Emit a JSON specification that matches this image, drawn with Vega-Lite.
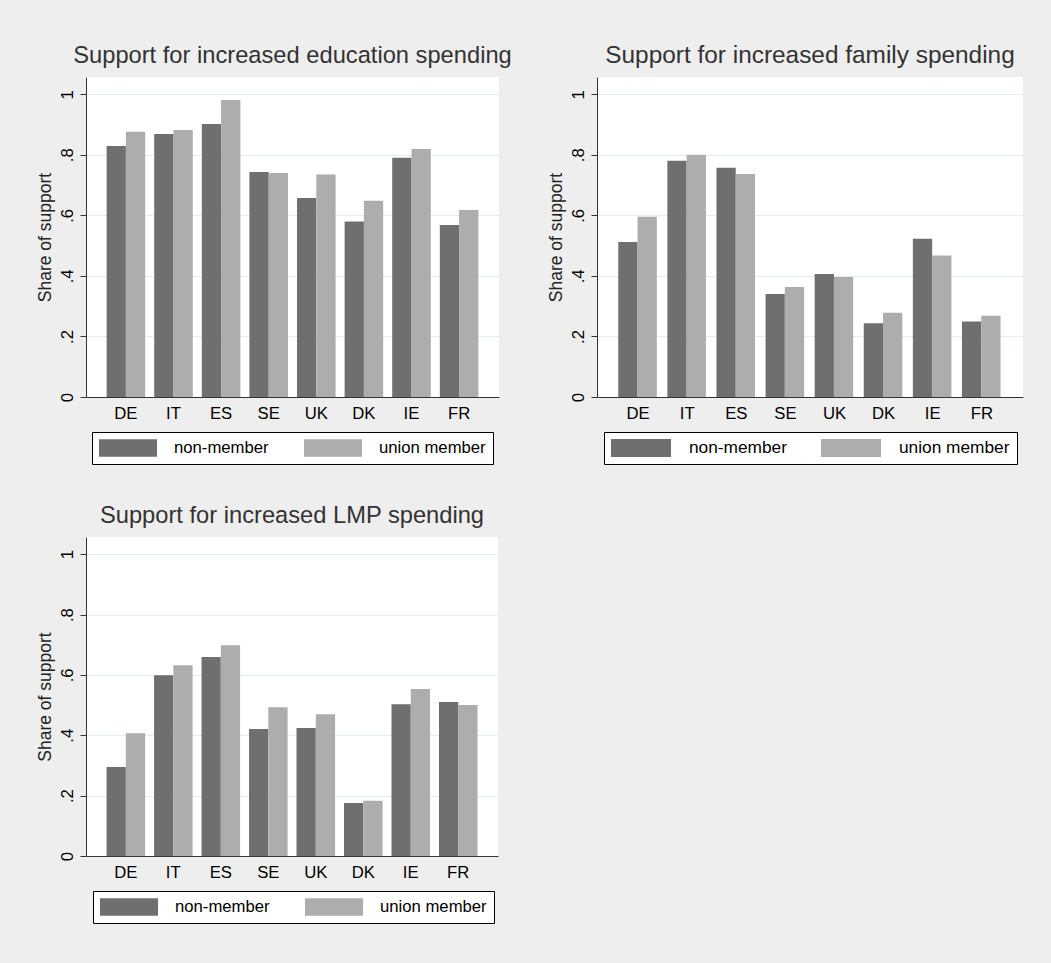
{
  "$schema": "https://vega.github.io/schema/vega-lite/v6.json",
  "background": "#eeeeee",
  "padding": {"left": 36, "top": 42, "right": 28, "bottom": 39},
  "datasets": {
    "support": [
      {"topic": "education", "country": "DE", "member": "non-member", "share": 0.829},
      {"topic": "education", "country": "DE", "member": "union member", "share": 0.876},
      {"topic": "education", "country": "IT", "member": "non-member", "share": 0.869},
      {"topic": "education", "country": "IT", "member": "union member", "share": 0.882},
      {"topic": "education", "country": "ES", "member": "non-member", "share": 0.902},
      {"topic": "education", "country": "ES", "member": "union member", "share": 0.981},
      {"topic": "education", "country": "SE", "member": "non-member", "share": 0.743},
      {"topic": "education", "country": "SE", "member": "union member", "share": 0.740},
      {"topic": "education", "country": "UK", "member": "non-member", "share": 0.657},
      {"topic": "education", "country": "UK", "member": "union member", "share": 0.735},
      {"topic": "education", "country": "DK", "member": "non-member", "share": 0.580},
      {"topic": "education", "country": "DK", "member": "union member", "share": 0.648},
      {"topic": "education", "country": "IE", "member": "non-member", "share": 0.790},
      {"topic": "education", "country": "IE", "member": "union member", "share": 0.819},
      {"topic": "education", "country": "FR", "member": "non-member", "share": 0.568},
      {"topic": "education", "country": "FR", "member": "union member", "share": 0.618},
      {"topic": "family", "country": "DE", "member": "non-member", "share": 0.512},
      {"topic": "family", "country": "DE", "member": "union member", "share": 0.595},
      {"topic": "family", "country": "IT", "member": "non-member", "share": 0.780},
      {"topic": "family", "country": "IT", "member": "union member", "share": 0.800},
      {"topic": "family", "country": "ES", "member": "non-member", "share": 0.757},
      {"topic": "family", "country": "ES", "member": "union member", "share": 0.737},
      {"topic": "family", "country": "SE", "member": "non-member", "share": 0.340},
      {"topic": "family", "country": "SE", "member": "union member", "share": 0.363},
      {"topic": "family", "country": "UK", "member": "non-member", "share": 0.406},
      {"topic": "family", "country": "UK", "member": "union member", "share": 0.396},
      {"topic": "family", "country": "DK", "member": "non-member", "share": 0.244},
      {"topic": "family", "country": "DK", "member": "union member", "share": 0.278},
      {"topic": "family", "country": "IE", "member": "non-member", "share": 0.523},
      {"topic": "family", "country": "IE", "member": "union member", "share": 0.467},
      {"topic": "family", "country": "FR", "member": "non-member", "share": 0.249},
      {"topic": "family", "country": "FR", "member": "union member", "share": 0.268},
      {"topic": "lmp", "country": "DE", "member": "non-member", "share": 0.295},
      {"topic": "lmp", "country": "DE", "member": "union member", "share": 0.407},
      {"topic": "lmp", "country": "IT", "member": "non-member", "share": 0.599},
      {"topic": "lmp", "country": "IT", "member": "union member", "share": 0.632},
      {"topic": "lmp", "country": "ES", "member": "non-member", "share": 0.659},
      {"topic": "lmp", "country": "ES", "member": "union member", "share": 0.698},
      {"topic": "lmp", "country": "SE", "member": "non-member", "share": 0.421},
      {"topic": "lmp", "country": "SE", "member": "union member", "share": 0.493},
      {"topic": "lmp", "country": "UK", "member": "non-member", "share": 0.424},
      {"topic": "lmp", "country": "UK", "member": "union member", "share": 0.470},
      {"topic": "lmp", "country": "DK", "member": "non-member", "share": 0.176},
      {"topic": "lmp", "country": "DK", "member": "union member", "share": 0.183},
      {"topic": "lmp", "country": "IE", "member": "non-member", "share": 0.503},
      {"topic": "lmp", "country": "IE", "member": "union member", "share": 0.553},
      {"topic": "lmp", "country": "FR", "member": "non-member", "share": 0.510},
      {"topic": "lmp", "country": "FR", "member": "union member", "share": 0.500}
    ]
  },
  "config": {
    "font": "Liberation Sans",
    "view": {"fill": "white", "stroke": null},
    "title": {"font": "Liberation Sans", "fontSize": 23.7, "fontWeight": "normal", "color": "#333333", "anchor": "middle", "baseline": "alphabetic", "offset": 9},
    "axis": {
      "labelFont": "Liberation Sans", "labelFontSize": 16.7, "labelColor": "black",
      "titleFont": "Liberation Sans", "titleFontSize": 17.5, "titleFontWeight": "normal", "titleColor": "#222222",
      "domainColor": "#333333", "tickColor": "#333333", "gridColor": "#e5edf0"
    },
    "axisX": {"ticks": false, "tickSize": 0, "labelAngle": 0, "labelPadding": 8, "grid": false, "title": null},
    "axisY": {"tickSize": 6, "labelAngle": -90, "labelAlign": "center", "labelBaseline": "bottom", "labelPadding": 4, "titlePadding": 5, "grid": true},
    "legend": {
      "orient": "none", "direction": "horizontal", "columns": 2, "title": null,
      "fillColor": "white", "strokeColor": "black", "padding": 7,
      "symbolType": "M-1,-0.3H1V0.3H-1Z", "symbolSize": 3364, "symbolStrokeWidth": 0, "symbolOpacity": 1,
      "labelFont": "Liberation Sans", "labelFontSize": 16.7, "labelColor": "black", "labelOffset": 17,
      "columnPadding": 35, "clipHeight": 18
    },
    "bar": {"stroke": null}
  },
  "columns": 2,
  "spacing": {"row": 140, "column": 98},
  "bounds": "flush",
  "resolve": {"legend": {"color": "independent"}},
  "concat": [
    {
      "width": 413, "height": 320,
      "title": "Support for increased education spending",
      "data": {"name": "support"},
      "transform": [{"filter": "datum.topic == 'education'"}],
      "mark": {"type": "bar"},
      "encoding": {
        "x": {"field": "country", "type": "nominal", "sort": ["DE", "IT", "ES", "SE", "UK", "DK", "IE", "FR"], "scale": {"paddingInner": 0.19, "paddingOuter": 0.433}},
        "xOffset": {"field": "member", "type": "nominal", "scale": {"paddingInner": 0, "paddingOuter": 0}},
        "y": {"field": "share", "type": "quantitative", "scale": {"domain": [0, 1.057], "nice": false}, "axis": {"title": "Share of support", "values": [0, 0.2, 0.4, 0.6, 0.8, 1], "labelExpr": "replace(format(datum.value, '.1~f'), '0.', '.')"}},
        "color": {"field": "member", "type": "nominal", "scale": {"domain": ["non-member", "union member"], "range": ["#6f6f6f", "#adadad"]}, "legend": {"legendX": 6, "legendY": 355}}
      }
    },
    {
      "width": 426, "height": 320,
      "title": {"text": "Support for increased family spending", "fontSize": 24.4},
      "data": {"name": "support"},
      "transform": [{"filter": "datum.topic == 'family'"}],
      "mark": {"type": "bar"},
      "encoding": {
        "x": {"field": "country", "type": "nominal", "sort": ["DE", "IT", "ES", "SE", "UK", "DK", "IE", "FR"], "scale": {"paddingInner": 0.19, "paddingOuter": 0.433}},
        "xOffset": {"field": "member", "type": "nominal", "scale": {"paddingInner": 0, "paddingOuter": 0}},
        "y": {"field": "share", "type": "quantitative", "scale": {"domain": [0, 1.057], "nice": false}, "axis": {"title": "Share of support", "values": [0, 0.2, 0.4, 0.6, 0.8, 1], "labelExpr": "replace(format(datum.value, '.1~f'), '0.', '.')"}},
        "color": {"field": "member", "type": "nominal", "scale": {"domain": ["non-member", "union member"], "range": ["#6f6f6f", "#adadad"]}, "legend": {"legendX": 7, "legendY": 355, "symbolSize": 3600, "labelOffset": 18, "labelFontSize": 17.3, "columnPadding": 34}}
      }
    },
    {
      "width": 412, "height": 319,
      "title": "Support for increased LMP spending",
      "data": {"name": "support"},
      "transform": [{"filter": "datum.topic == 'lmp'"}],
      "mark": {"type": "bar"},
      "encoding": {
        "x": {"field": "country", "type": "nominal", "sort": ["DE", "IT", "ES", "SE", "UK", "DK", "IE", "FR"], "scale": {"paddingInner": 0.19, "paddingOuter": 0.433}},
        "xOffset": {"field": "member", "type": "nominal", "scale": {"paddingInner": 0, "paddingOuter": 0}},
        "y": {"field": "share", "type": "quantitative", "scale": {"domain": [0, 1.057], "nice": false}, "axis": {"title": "Share of support", "values": [0, 0.2, 0.4, 0.6, 0.8, 1], "labelExpr": "replace(format(datum.value, '.1~f'), '0.', '.')"}},
        "color": {"field": "member", "type": "nominal", "scale": {"domain": ["non-member", "union member"], "range": ["#6f6f6f", "#adadad"]}, "legend": {"legendX": 7, "legendY": 354}}
      }
    }
  ]
}
